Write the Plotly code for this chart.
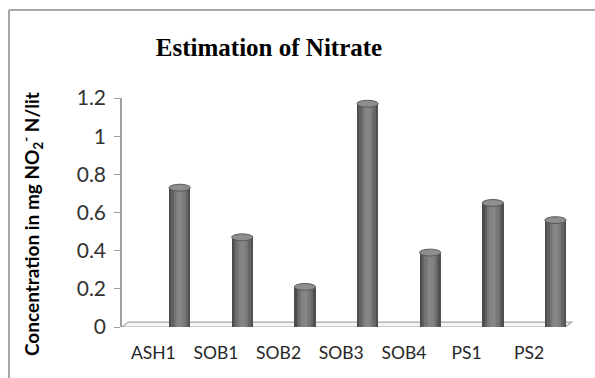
import plotly.graph_objects as go

categories = ["ASH1", "SOB1", "SOB2", "SOB3", "SOB4", "PS1", "PS2"]
values = [0.73, 0.47, 0.21, 1.17, 0.39, 0.65, 0.56]
y_ticks = [0, 0.2, 0.4, 0.6, 0.8, 1, 1.2]
y_tick_text = ["0", "0.2", "0.4", "0.6", "0.8", "1", "1.2"]

W, H = 595, 378
L, R, T, B = 122, 22, 98, 51

# cylinder shading slices (left -> right)
slice_colors = ["#4c4c4c", "#626262", "#747474", "#828282", "#878787",
                "#838383", "#777777", "#666666", "#505050"]
bar_left, bar_right = 0.25, 0.59
n = len(slice_colors)
sw = (bar_right - bar_left) / n

fig = go.Figure()
xs = list(range(len(categories)))
for k, c in enumerate(slice_colors):
    fig.add_trace(go.Bar(
        x=xs, y=values, base=0,
        offset=bar_left + k * sw, width=sw * 1.02,
        marker=dict(color=c, line=dict(width=0)),
        showlegend=False, hoverinfo="skip"))

shapes = []
# floor (3D base)
depth = 0.026
shapes.append(dict(type="path", xref="x", yref="y",
                   path=f"M -0.5 0 L 6.58 0 L 6.68 {depth} L -0.4 {depth} Z",
                   fillcolor="#f4f4f4", line=dict(color="#a8a8a8", width=1.2),
                   layer="below"))
# cylinder tops
for i, v in enumerate(values):
    shapes.append(dict(type="circle", xref="x", yref="y",
                       x0=i + bar_left, x1=i + bar_right,
                       y0=v - 0.018, y1=v + 0.018,
                       fillcolor="#8e8e8e", line=dict(color="#5a5a5a", width=1),
                       layer="above"))
# outer frame (left and top lines)
pw = W - L - R
ph = H - T - B
fx = (9 - L) / pw
fy_top = (H - B - 10) / ph
fy_bot = (H - B - H) / ph
fx_right = (W - L) / pw
shapes.append(dict(type="line", xref="paper", yref="paper",
                   x0=fx, x1=fx, y0=fy_bot, y1=fy_top,
                   line=dict(color="#a6a6a6", width=2)))
shapes.append(dict(type="line", xref="paper", yref="paper",
                   x0=fx, x1=fx_right, y0=fy_top, y1=fy_top,
                   line=dict(color="#a6a6a6", width=2)))

fig.update_layout(
    width=W, height=H,
    margin=dict(l=L, r=R, t=T, b=B),
    paper_bgcolor="white", plot_bgcolor="white",
    barmode="overlay", bargap=0,
    shapes=shapes,
    title=dict(text="<b>Estimation of Nitrate</b>", xref="container", x=269 / W,
               xanchor="center", yref="container", y=1 - 47 / H, yanchor="middle",
               font=dict(family="Liberation Serif", size=25, color="#000000")),
    xaxis=dict(range=[-0.5, 6.7], tickmode="array", tickvals=xs, ticktext=categories,
               showgrid=False, zeroline=False, showline=False,
               ticks="outside", ticklen=10, tickcolor="rgba(0,0,0,0)",
               tickfont=dict(family="Lato", size=17.5, color="#262626")),
    yaxis=dict(range=[0, 1.2], tickmode="array", tickvals=y_ticks, ticktext=y_tick_text,
               showgrid=False, zeroline=False, showline=True, linecolor="#a0a0a0",
               linewidth=1.5, ticks="outside", ticklen=6, tickcolor="#a0a0a0",
               ticklabelstandoff=4,
               tickfont=dict(family="Lato", size=21, color="#333333")),
    annotations=[dict(
        text="<b>Concentration in mg NO<sub>2</sub><sup>-</sup> N/lit</b>",
        xref="paper", yref="paper",
        x=(32 - L) / pw, y=(H - B - 224) / ph,
        xanchor="center", yanchor="middle", textangle=-90, showarrow=False,
        font=dict(family="Lato", size=19, color="#000000"))],
)

fig.write_html("out.html")
